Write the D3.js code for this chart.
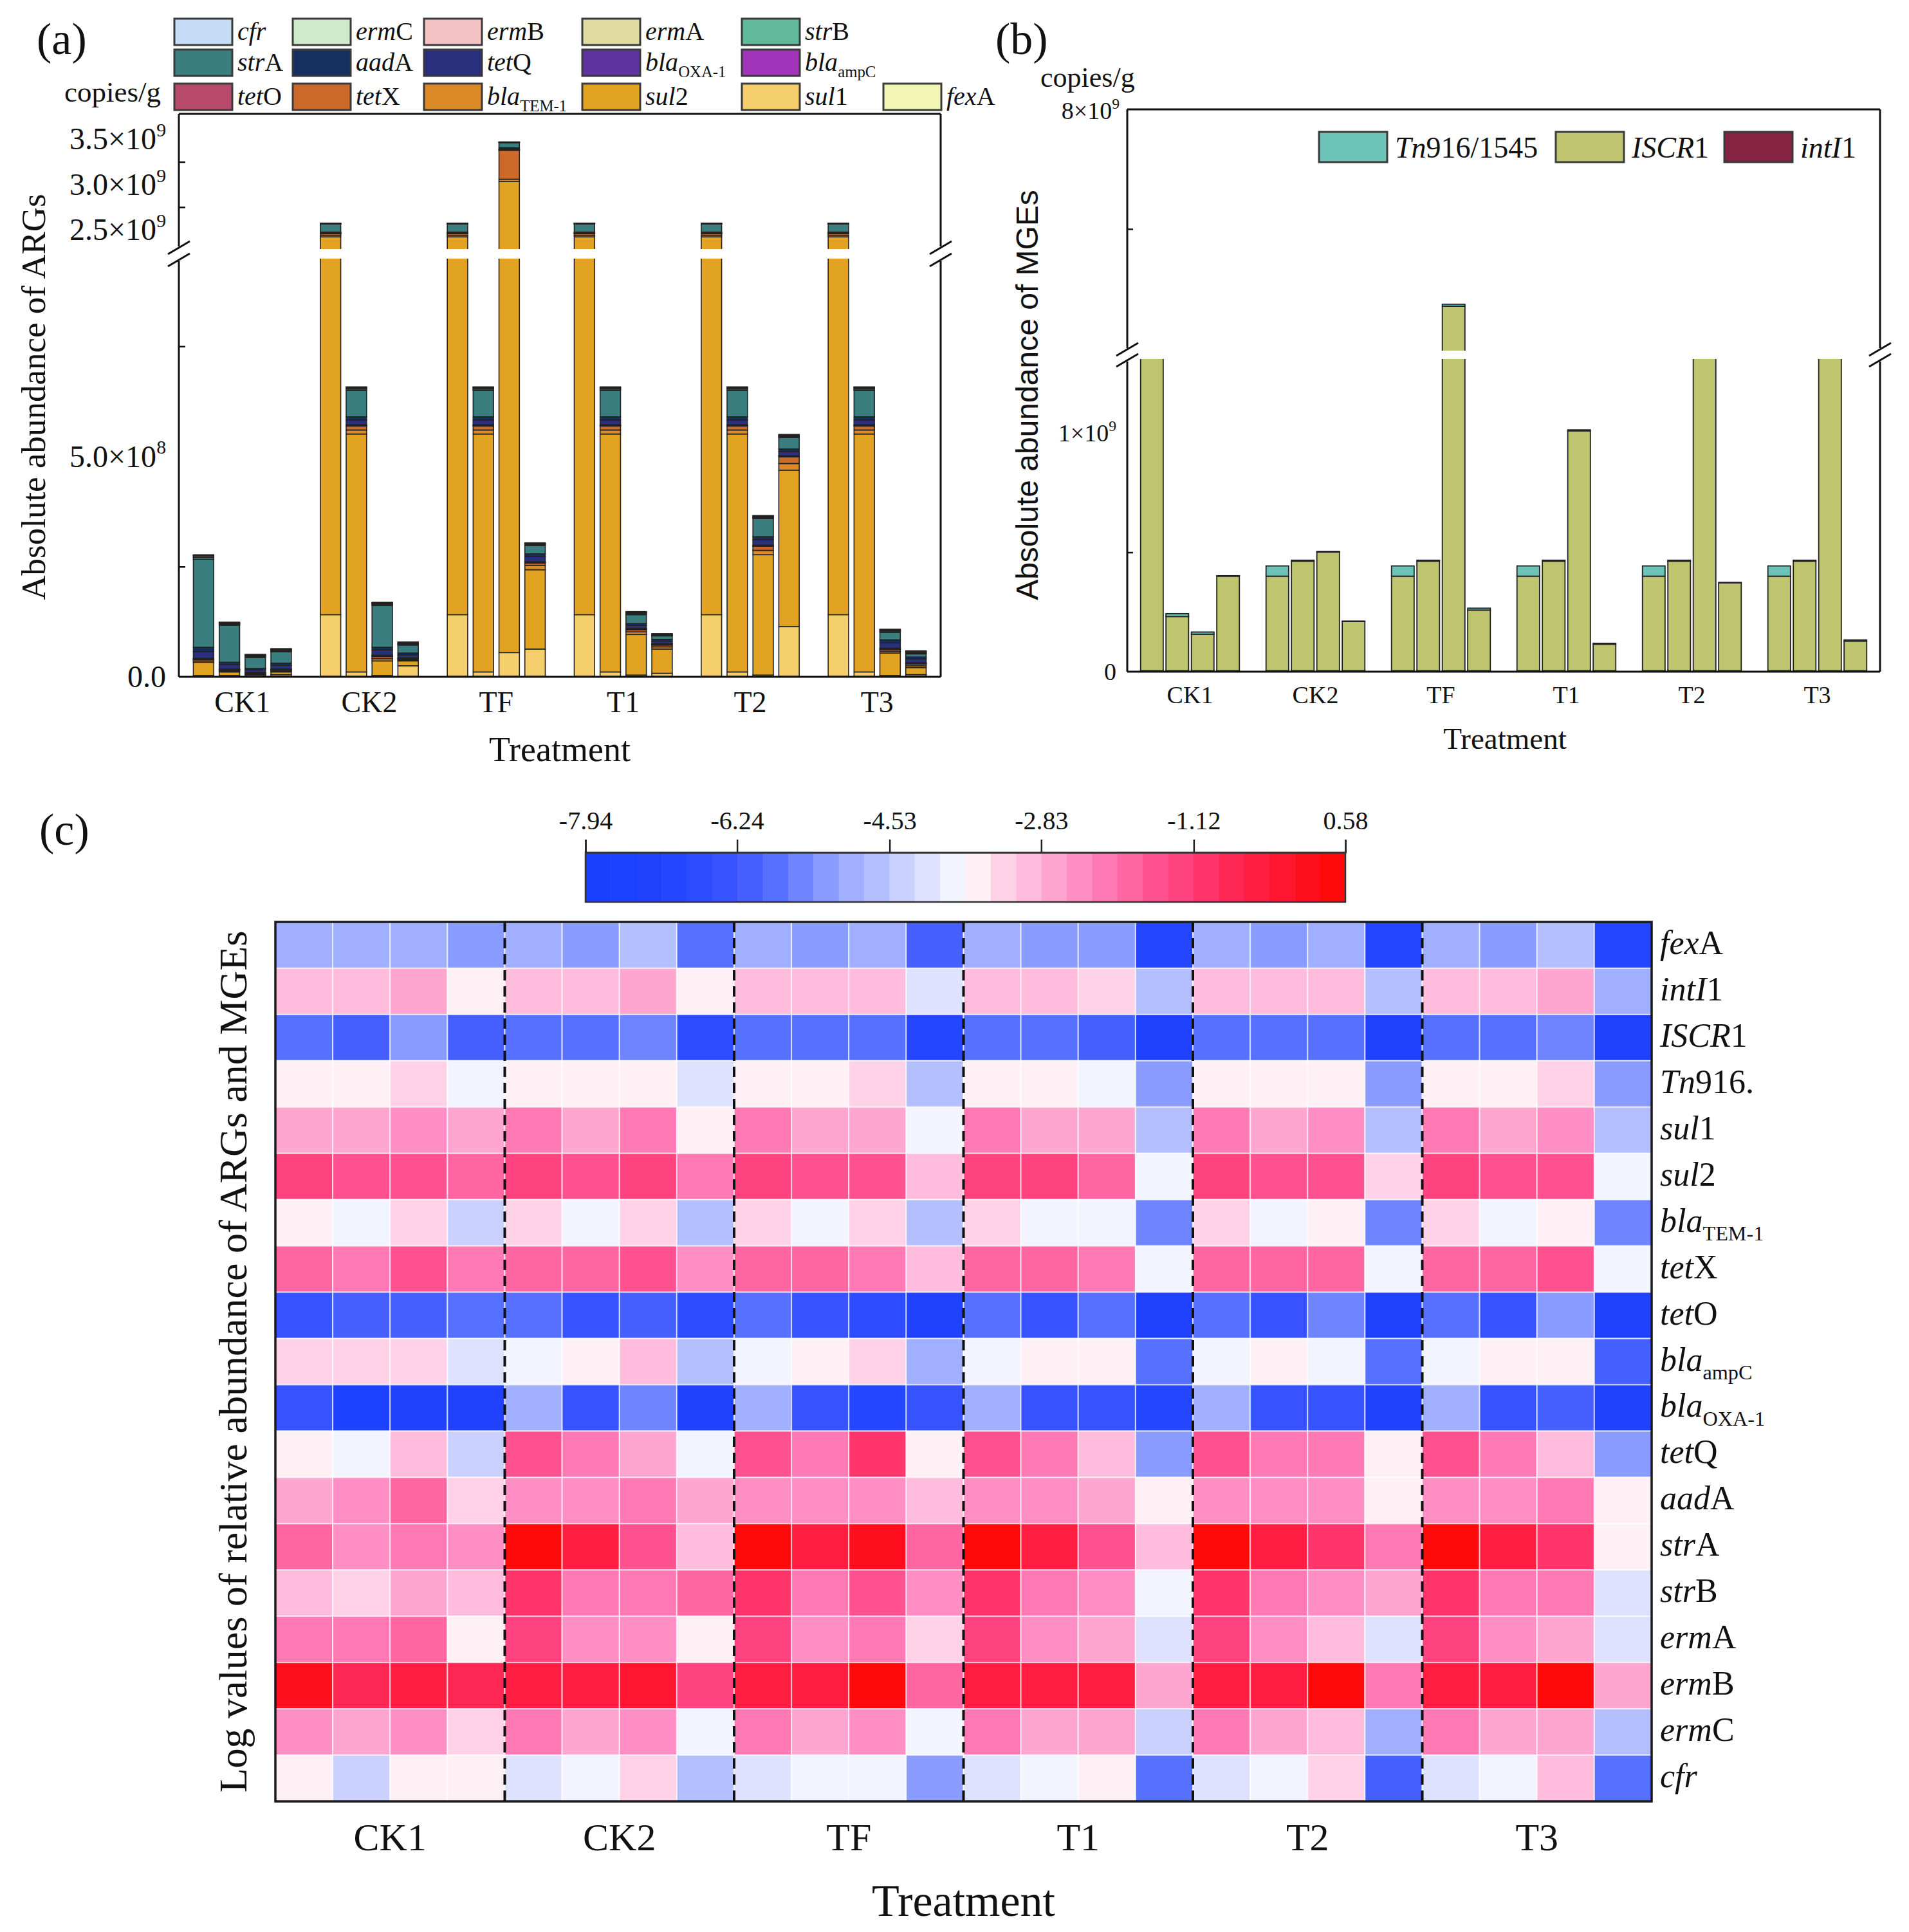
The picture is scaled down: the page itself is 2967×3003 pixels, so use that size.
<!DOCTYPE html>
<html><head><meta charset="utf-8">
<script src="https://cdn.jsdelivr.net/npm/d3@7/dist/d3.min.js"></script>
<style>body{margin:0;background:#fff}</style>
</head><body>
<svg id="c" width="2967" height="3003" xmlns="http://www.w3.org/2000/svg"></svg>
<script>
// ---------------- DATA ----------------
const treatments = ["CK1","CK2","TF","T1","T2","T3"];

// Panel (a): absolute abundance of ARGs (x 1e6 copies/g), 4 bars per treatment
const argLegendOrder = ["cfr","ermC","ermB","ermA","strB","strA","aadA","tetQ","blaOXA-1","blaampC","tetO","tetX","blaTEM-1","sul2","sul1","fexA"];
const argLegendLabels = ["*cfr*","*erm*C","*erm*B","*erm*A","*str*B","*str*A","*aad*A","*tet*Q","*bla*_{OXA-1}","*bla*_{ampC}","*tet*O","*tet*X","*bla*_{TEM-1}","*sul*2","*sul*1","*fex*A"];
const abs_fexA   = [1,1,1,1, 1,1,1,1, 1,1,1,1, 1,1,1,1, 1,1,1,1, 1,1,1,1];
const abs_sul1   = [2,2,1,4, 140,10,2,24, 140,10,54,62, 140,10,3,7, 140,10,3,113, 140,10,2,4];
const abs_sul2   = [30,8,3,6, 2280,540,33,11, 2280,540,2978,180, 2280,540,92,55, 2280,540,273,355, 2280,540,51,16];
const abs_blaTEM = [3,2,1,2, 18,9,5,2, 18,9,25,10, 18,9,6,5, 18,9,10,15, 18,9,4,4];
const abs_tetX   = [3,2,1,2, 17,9,5,2, 17,9,320,5, 17,9,5,4, 17,9,9,15, 17,9,4,4];
const abs_tetO   = [1,1,1,1, 1,1,1,1, 1,1,3,1, 1,1,1,1, 1,1,1,1, 1,1,1,1];
const abs_blaampC= [1,1,1,1, 1,1,1,1, 1,1,2,1, 1,1,1,1, 1,1,1,1, 1,1,1,1];
const abs_blaOXA = [1,1,1,1, 1,1,1,1, 1,1,2,1, 1,1,1,1, 1,1,1,1, 1,1,1,1];
const abs_tetQ   = [15,10,6,8, 9,11,12,7, 9,11,12,12, 9,11,7,6, 9,11,12,9, 9,11,12,9];
const abs_aadA   = [10,5,3,5, 6,7,6,4, 6,7,8,6, 6,7,4,4, 6,7,7,6, 6,7,7,4];
const abs_strA   = [200,84,25,26, 90,60,95,18, 90,60,57,19, 90,60,20,8, 90,60,41,26, 90,60,17,7];
const abs_strB   = [4,2,2,2, 2,3,2,2, 2,3,3,2, 2,3,2,1, 2,3,2,2, 2,3,2,2];
const abs_ermA   = [1,1,1,1, 1,1,1,1, 1,1,1,1, 1,1,1,1, 1,1,1,1, 1,1,1,1];
const abs_ermB   = [3,2,2,2, 2,2,2,2, 2,2,2,1, 2,2,2,1, 2,2,2,2, 2,2,2,2];
const abs_ermC   = [1,1,1,1, 1,1,1,1, 1,1,1,1, 1,1,1,1, 1,1,1,1, 1,1,1,1];
const abs_cfr    = [1,1,1,1, 1,1,1,1, 1,1,1,1, 1,1,1,1, 1,1,1,1, 1,1,1,1];
const argStackOrder = ["fexA","sul1","sul2","blaTEM-1","tetX","tetO","blaampC","blaOXA-1","tetQ","aadA","strA","strB","ermA","ermB","ermC","cfr"];
const argColors = {"cfr":"#C5DCF7","ermC":"#CDEBCB","ermB":"#F5C2C3","ermA":"#DEDAA0","strB":"#62BA9C","strA":"#3A7E80","aadA":"#15305E","tetQ":"#2B307E","blaOXA-1":"#5E339E","blaampC":"#A234B9","tetO":"#B84B6B","tetX":"#CC6A2B","blaTEM-1":"#DC8A27","sul2":"#E2A322","sul1":"#F5CF6B","fexA":"#F3F7B6"};
const yTicksA_low = [0, 5e8], yTickLabelsA_low = ["0.0","5.0×10^{8}"], yMinorA_low = [2.5e8, 7.5e8];
const yTicksA_up = [2.5e9, 3.0e9, 3.5e9], yTickLabelsA_up = ["2.5×10^{9}","3.0×10^{9}","3.5×10^{9}"], yMinorA_up = [2.75e9, 3.25e9];

// Panel (b): absolute abundance of MGEs (x 1e9 copies/g)
const mgeKeys = ["intI1","ISCR1","Tn916/1545"];
const mge_intI1 = [0.004,0.004,0.004,0.004, 0.004,0.004,0.004,0.004, 0.004,0.004,0.004,0.004, 0.004,0.004,0.004,0.004, 0.004,0.004,0.004,0.004, 0.004,0.004,0.004,0.004];
const mge_ISCR1 = [1.6,0.227,0.153,0.396, 0.396,0.459,0.497,0.206, 0.396,0.459,3.06,0.254, 0.396,0.459,1.005,0.111, 0.396,0.459,1.6,0.368, 0.396,0.459,1.6,0.124];
const mge_Tn916 = [0,0.012,0.009,0.002, 0.043,0.004,0.003,0.002, 0.043,0.004,0.05,0.008, 0.043,0.004,0.004,0.004, 0.043,0.004,0.002,0.002, 0.043,0.004,0.002,0.005];
const mgeLegendKeys = ["Tn916/1545","ISCR1","intI1"];
const mgeLegendLabels = ["*Tn*916/1545","*ISCR*1","*intI*1"];
const mgeColors = {"Tn916/1545":"#6CC3B7","ISCR1":"#BFC46F","intI1":"#862342"};
const yTicksB_low = [0, 1e9], yTickLabelsB_low = ["0","1×10^{9}"], yMinorB_low = [0.5e9];
const yTicksB_up = [8e9], yTickLabelsB_up = ["8×10^{9}"], yMinorB_up = [5e9];

// Panel (c): log relative abundance heatmap (rows top->bottom, 24 columns)
const heatLabels = ["*fex*A","*intI*1","*ISCR*1","*Tn*916.","*sul*1","*sul*2","*bla*_{TEM-1}","*tet*X","*tet*O","*bla*_{ampC}","*bla*_{OXA-1}","*tet*Q","*aad*A","*str*A","*str*B","*erm*A","*erm*B","*erm*C","*cfr*"];
const hm_fexA  = [-4.96,-4.96,-4.96,-5.24, -4.96,-5.24,-4.67,-5.81, -4.96,-5.24,-4.96,-6.09, -4.96,-5.24,-5.24,-6.95, -4.96,-5.24,-4.96,-6.95, -4.96,-5.24,-4.67,-6.95];
const hm_intI1 = [-2.97,-2.97,-2.69,-3.54, -2.97,-2.97,-2.69,-3.54, -2.97,-2.97,-2.97,-4.11, -2.97,-2.97,-3.25,-4.67, -2.97,-2.97,-2.97,-4.67, -2.97,-2.97,-2.69,-4.96];
const hm_ISCR1 = [-5.81,-6.09,-5.24,-6.09, -5.81,-5.81,-5.53,-6.66, -5.81,-5.81,-5.81,-6.95, -5.81,-5.81,-6.09,-7.23, -5.81,-5.81,-5.81,-7.23, -5.81,-5.81,-5.53,-7.23];
const hm_Tn916 = [-3.54,-3.54,-3.25,-3.82, -3.54,-3.54,-3.54,-4.11, -3.54,-3.54,-3.25,-4.67, -3.54,-3.54,-3.82,-5.24, -3.54,-3.54,-3.54,-5.24, -3.54,-3.54,-3.25,-5.24];
const hm_sul1  = [-2.69,-2.69,-2.40,-2.69, -2.12,-2.69,-2.12,-3.54, -2.12,-2.69,-2.69,-3.82, -2.12,-2.69,-2.69,-4.67, -2.12,-2.69,-2.40,-4.67, -2.12,-2.69,-2.40,-4.67];
const hm_sul2  = [-1.27,-1.55,-1.55,-1.83, -1.27,-1.55,-1.27,-2.12, -1.27,-1.55,-1.55,-2.97, -1.27,-1.27,-1.83,-3.82, -1.27,-1.55,-1.55,-3.25, -1.27,-1.55,-1.55,-3.82];
const hm_blaTEM= [-3.54,-3.82,-3.25,-4.39, -3.25,-3.82,-3.25,-4.67, -3.25,-3.82,-3.25,-4.67, -3.25,-3.82,-3.82,-5.53, -3.25,-3.82,-3.54,-5.53, -3.25,-3.82,-3.54,-5.53];
const hm_tetX  = [-1.83,-2.12,-1.55,-2.12, -1.83,-1.83,-1.55,-2.40, -1.83,-1.83,-2.12,-2.97, -1.83,-1.83,-2.12,-3.82, -1.83,-1.83,-1.83,-3.82, -1.83,-1.83,-1.55,-3.82];
const hm_tetO  = [-6.38,-6.09,-6.09,-5.81, -5.81,-6.38,-6.09,-6.66, -5.81,-6.38,-6.66,-7.23, -5.81,-6.38,-5.81,-7.23, -5.81,-6.38,-5.53,-7.23, -5.81,-6.38,-5.24,-7.23];
const hm_blaampC=[-3.25,-3.25,-3.25,-4.11, -3.82,-3.54,-2.97,-4.67, -3.82,-3.54,-3.25,-4.96, -3.82,-3.54,-3.54,-5.81, -3.82,-3.54,-3.82,-5.81, -3.82,-3.54,-3.54,-6.09];
const hm_blaOXA= [-6.38,-7.51,-7.23,-7.23, -4.96,-6.38,-5.53,-7.23, -4.96,-6.38,-6.95,-6.38, -4.96,-6.38,-6.38,-6.95, -4.96,-6.38,-6.38,-7.23, -4.96,-6.38,-6.09,-7.23];
const hm_tetQ  = [-3.54,-3.82,-2.97,-4.39, -1.55,-2.12,-2.69,-3.82, -1.55,-2.12,-0.98,-3.54, -1.55,-2.12,-2.97,-5.24, -1.55,-2.12,-2.12,-3.54, -1.55,-2.12,-2.97,-5.24];
const hm_aadA  = [-2.69,-2.40,-1.83,-3.25, -2.40,-2.40,-2.12,-2.69, -2.40,-2.40,-2.40,-2.97, -2.40,-2.40,-2.69,-3.54, -2.40,-2.40,-2.40,-3.54, -2.40,-2.40,-2.12,-3.54];
const hm_strA  = [-1.83,-2.40,-2.12,-2.40, 0.44,-0.42,-1.55,-2.97, 0.44,-0.42,0.15,-1.83, 0.44,-0.42,-1.55,-2.97, 0.44,-0.42,-0.98,-2.12, 0.44,-0.42,-0.98,-3.54];
const hm_strB  = [-2.97,-3.25,-2.69,-2.97, -0.98,-2.12,-2.12,-1.83, -0.98,-2.12,-1.55,-2.40, -0.98,-2.12,-2.40,-3.82, -0.98,-2.12,-2.40,-2.69, -0.98,-2.12,-2.12,-4.11];
const hm_ermA  = [-2.12,-2.12,-1.83,-3.54, -1.27,-2.40,-2.40,-3.54, -1.27,-2.40,-2.12,-3.25, -1.27,-2.40,-2.69,-4.11, -1.27,-2.40,-2.97,-4.11, -1.27,-2.40,-2.69,-4.11];
const hm_ermB  = [0.15,-0.70,-0.42,-0.70, -0.42,-0.42,-0.13,-1.27, -0.42,-0.42,0.44,-1.83, -0.42,-0.42,-0.42,-2.69, -0.42,-0.42,0.44,-2.12, -0.42,-0.42,0.44,-2.69];
const hm_ermC  = [-2.40,-2.69,-2.40,-3.25, -2.12,-2.69,-2.40,-3.82, -2.12,-2.69,-2.40,-3.82, -2.12,-2.69,-2.69,-4.39, -2.12,-2.69,-2.97,-4.96, -2.12,-2.69,-2.69,-4.67];
const hm_cfr   = [-3.54,-4.39,-3.54,-3.54, -4.11,-3.82,-3.25,-4.67, -4.11,-3.82,-3.82,-5.24, -4.11,-3.82,-3.54,-5.81, -4.11,-3.82,-3.25,-6.09, -4.11,-3.82,-2.97,-5.81];
const colorbarTicks = [-7.94,-6.24,-4.53,-2.83,-1.12,0.58];
const heatPalette = ["#1A3FFF","#1C41FF","#2042FF","#2546FF","#2D4CFF","#3653FF","#4560FF","#5670FF","#6E85FF","#8A9CFF","#A0AFFF","#B4BFFF","#CAD1FF","#DEE2FF","#F2F5FF","#FFF0F6","#FFD2E8","#FFBCDC","#FFA6D0","#FF8EC4","#FF7AB4","#FF66A2","#FF5090","#FF4280","#FF356C","#FF2855","#FF1E42","#FF1530","#FF0F1E","#FF0A0A"];

// ---------------- HELPERS ----------------
const SERIF = "Liberation Serif, Times New Roman, serif";
const SANS = "Liberation Sans, Arial, sans-serif";
const svg = d3.select("#c");
svg.append("rect").attr("width",2967).attr("height",3003).attr("fill","#fff");

function rich(text, str, fs) {
  const re = /\*([^*]+)\*|_\{([^}]+)\}|\^\{([^}]+)\}|([^*_^]+)/g;
  let m, shift = 0;
  while ((m = re.exec(str))) {
    const t = text.append("tspan");
    let dy;
    if (m[1] !== undefined) { t.text(m[1]).attr("font-style","italic"); dy = -shift; shift = 0; }
    else if (m[2] !== undefined) { t.text(m[2]).attr("font-size", fs*0.62); dy = 0.26*fs - shift; shift = 0.26*fs; }
    else if (m[3] !== undefined) { t.text(m[3]).attr("font-size", fs*0.62); dy = -0.42*fs - shift; shift = -0.42*fs; }
    else { t.text(m[4]); dy = -shift; shift = 0; }
    if (dy) t.attr("dy", dy);
  }
  return text;
}
function label(g, x, y, str, fs, anchor, family) {
  const t = g.append("text").attr("x", x).attr("y", y).attr("font-size", fs)
    .attr("font-family", family || SERIF).attr("text-anchor", anchor || "start").attr("fill","#111");
  return rich(t, str, fs);
}
function breakMarks(g, x, yTop, yBot) {
  [yTop, yBot].forEach(y => g.append("line").attr("x1", x-17).attr("y1", y+10).attr("x2", x+17).attr("y2", y-10)
    .attr("stroke","#111").attr("stroke-width",3));
}

// ---------------- PANEL (a) ----------------
{
  const A = {left:278, right:1462, top:177, bottom:1052, upBot:387, lowTop:402};
  const g = svg.append("g");
  const argData = {"fexA":abs_fexA,"sul1":abs_sul1,"sul2":abs_sul2,"blaTEM-1":abs_blaTEM,"tetX":abs_tetX,"tetO":abs_tetO,"blaampC":abs_blaampC,"blaOXA-1":abs_blaOXA,"tetQ":abs_tetQ,"aadA":abs_aadA,"strA":abs_strA,"strB":abs_strB,"ermA":abs_ermA,"ermB":abs_ermB,"ermC":abs_ermC,"cfr":abs_cfr};
  const rows = d3.range(24).map(i => { const o = {t: treatments[Math.floor(i/4)], r: i%4}; argStackOrder.forEach(k => o[k] = argData[k][i]*1e6); return o; });
  const series = d3.stack().keys(argStackOrder)(rows);
  const x = d3.scaleBand().domain(treatments).range([A.left, A.right]);
  const xi = d3.scaleBand().domain(d3.range(4)).range([0, x.bandwidth()]).paddingInner(0.21).paddingOuter(0.56);
  const yLow = d3.scaleLinear().domain([0, 9.49e8]).range([A.bottom, A.lowTop]);
  const yUp = d3.scaleLinear().domain([2.287e9, 3.78e9]).range([A.upBot, A.top]);
  const defs = svg.append("defs");
  defs.append("clipPath").attr("id","clipALow").append("rect").attr("x",A.left).attr("y",A.lowTop).attr("width",A.right-A.left).attr("height",A.bottom-A.lowTop+4);
  defs.append("clipPath").attr("id","clipAUp").append("rect").attr("x",A.left).attr("y",A.top).attr("width",A.right-A.left).attr("height",A.upBot-A.top);
  [[yLow,"clipALow"],[yUp,"clipAUp"]].forEach(([y, clip]) => {
    const gg = g.append("g").attr("clip-path", `url(#${clip})`);
    gg.selectAll("g").data(series).join("g").attr("fill", d => argColors[d.key])
      .selectAll("rect").data(d => d).join("rect")
      .attr("x", d => x(d.data.t) + xi(d.data.r)).attr("width", xi.bandwidth())
      .attr("y", d => y(d[1])).attr("height", d => Math.max(0, y(d[0]) - y(d[1])))
      .attr("stroke","#222").attr("stroke-width",1.6);
  });
  const fr = g.append("g").attr("stroke","#111").attr("stroke-width",3).attr("fill","none");
  fr.append("line").attr("x1",A.left).attr("x2",A.right).attr("y1",A.top).attr("y2",A.top);
  fr.append("line").attr("x1",A.left).attr("x2",A.right).attr("y1",A.bottom).attr("y2",A.bottom);
  [A.left, A.right].forEach(xx => {
    fr.append("line").attr("x1",xx).attr("x2",xx).attr("y1",A.top).attr("y2",A.upBot-4);
    fr.append("line").attr("x1",xx).attr("x2",xx).attr("y1",A.lowTop+4).attr("y2",A.bottom);
    breakMarks(g, xx, A.upBot-2, A.lowTop+2);
  });
  const tk = (scale, vals, size) => g.append("g").attr("transform",`translate(${A.left},0)`)
    .call(d3.axisLeft(scale).tickValues(vals).tickSize(-size).tickFormat(""))
    .call(s => { s.select(".domain").remove(); s.selectAll("line").attr("stroke","#111").attr("stroke-width",2.5); });
  tk(yLow, yMinorA_low, 10); tk(yUp, yMinorA_up, 10);
  yTicksA_low.forEach((v,i) => label(g, 258, yLow(v)+16, yTickLabelsA_low[i], 48, "end"));
  yTicksA_up.forEach((v,i) => label(g, 258, yUp(v)+16, yTickLabelsA_up[i], 48, "end"));
  treatments.forEach(t => label(g, x(t)+x.bandwidth()/2, 1107, t, 46, "middle"));
  label(g, 870, 1183, "Treatment", 54, "middle");
  g.append("text").attr("transform","translate(70,617) rotate(-90)").attr("text-anchor","middle")
    .attr("font-family",SERIF).attr("font-size",53).attr("fill","#111").text("Absolute abundance of ARGs");
  label(g, 100, 158, "copies/g", 45);
  label(g, 57, 84, "(a)", 70);
  const colX = [271, 455, 659, 905, 1153, 1373], rowY = [29, 77, 130];
  const cells = [[0,0],[0,1],[0,2],[0,3],[0,4],[1,0],[1,1],[1,2],[1,3],[1,4],[2,0],[2,1],[2,2],[2,3],[2,4],[2,5]];
  argLegendOrder.forEach((k,i) => {
    const [r,c] = cells[i];
    g.append("rect").attr("x",colX[c]).attr("y",rowY[r]).attr("width",90).attr("height",41)
      .attr("fill",argColors[k]).attr("stroke","#3a3a3a").attr("stroke-width",3);
    label(g, colX[c]+98, rowY[r]+33, argLegendLabels[i], 40);
  });
}

// ---------------- PANEL (b) ----------------
{
  const B = {left:1752, right:2922, top:170, bottom:1044, upBot:545, lowTop:558};
  const g = svg.append("g");
  const mgeData = {"intI1":mge_intI1,"ISCR1":mge_ISCR1,"Tn916/1545":mge_Tn916};
  const rows = d3.range(24).map(i => { const o = {t: treatments[Math.floor(i/4)], r: i%4}; mgeKeys.forEach(k => o[k] = mgeData[k][i]*1e9); return o; });
  const series = d3.stack().keys(mgeKeys)(rows);
  const x = d3.scaleBand().domain(treatments).range([B.left, B.right]);
  const xi = d3.scaleBand().domain(d3.range(4)).range([0, x.bandwidth()]).paddingInner(0.11).paddingOuter(0.525);
  const yLow = d3.scaleLinear().domain([0, 1.31e9]).range([B.bottom, B.lowTop]);
  const yUp = d3.scaleLinear().domain([1.95e9, 8e9]).range([B.upBot, B.top]);
  const defs = svg.append("defs");
  defs.append("clipPath").attr("id","clipBLow").append("rect").attr("x",B.left).attr("y",B.lowTop).attr("width",B.right-B.left).attr("height",B.bottom-B.lowTop+4);
  defs.append("clipPath").attr("id","clipBUp").append("rect").attr("x",B.left).attr("y",B.top).attr("width",B.right-B.left).attr("height",B.upBot-B.top);
  [[yLow,"clipBLow"],[yUp,"clipBUp"]].forEach(([y, clip]) => {
    const gg = g.append("g").attr("clip-path", `url(#${clip})`);
    gg.selectAll("g").data(series).join("g").attr("fill", d => mgeColors[d.key])
      .selectAll("rect").data(d => d).join("rect")
      .attr("x", d => x(d.data.t) + xi(d.data.r)).attr("width", xi.bandwidth())
      .attr("y", d => y(d[1])).attr("height", d => Math.max(0, y(d[0]) - y(d[1])))
      .attr("stroke","#222").attr("stroke-width",1.8);
  });
  const fr = g.append("g").attr("stroke","#111").attr("stroke-width",3).attr("fill","none");
  fr.append("line").attr("x1",B.left).attr("x2",B.right).attr("y1",B.top).attr("y2",B.top);
  fr.append("line").attr("x1",B.left).attr("x2",B.right).attr("y1",B.bottom).attr("y2",B.bottom);
  [B.left, B.right].forEach(xx => {
    fr.append("line").attr("x1",xx).attr("x2",xx).attr("y1",B.top).attr("y2",B.upBot-4);
    fr.append("line").attr("x1",xx).attr("x2",xx).attr("y1",B.lowTop+4).attr("y2",B.bottom);
    breakMarks(g, xx, B.upBot-2, B.lowTop+2);
  });
  const tk = (scale, vals, size) => g.append("g").attr("transform",`translate(${B.left},0)`)
    .call(d3.axisLeft(scale).tickValues(vals).tickSize(-size).tickFormat(""))
    .call(s => { s.select(".domain").remove(); s.selectAll("line").attr("stroke","#111").attr("stroke-width",2.5); });
  tk(yLow, yMinorB_low, 9); tk(yUp, yMinorB_up, 9);
  yTicksB_low.forEach((v,i) => label(g, 1735, yLow(v)+13, yTickLabelsB_low[i], 38, "end"));
  yTicksB_up.forEach((v,i) => label(g, 1740, yUp(v)+15, yTickLabelsB_up[i], 38, "end"));
  treatments.forEach(t => label(g, x(t)+x.bandwidth()/2, 1093, t, 38, "middle"));
  label(g, 2339, 1164, "Treatment", 47, "middle");
  g.append("text").attr("transform","translate(1613,614) rotate(-90)").attr("text-anchor","middle")
    .attr("font-family",SANS).attr("font-size",48).attr("fill","#111").text("Absolute abundance of MGEs");
  label(g, 1617, 135, "copies/g", 44);
  label(g, 1547, 84, "(b)", 70);
  const legX = [2050, 2418, 2680];
  mgeLegendKeys.forEach((k,i) => {
    g.append("rect").attr("x",legX[i]).attr("y",205).attr("width",106).attr("height",47)
      .attr("fill",mgeColors[k]).attr("stroke","#3a3a3a").attr("stroke-width",3);
    label(g, legX[i]+118, 245, mgeLegendLabels[i], 46);
  });
}

// ---------------- PANEL (c) ----------------
{
  const H = {left:428, right:2567, top:1433, bottom:2800};
  const g = svg.append("g");
  const matrix = [hm_fexA,hm_intI1,hm_ISCR1,hm_Tn916,hm_sul1,hm_sul2,hm_blaTEM,hm_tetX,hm_tetO,hm_blaampC,hm_blaOXA,hm_tetQ,hm_aadA,hm_strA,hm_strB,hm_ermA,hm_ermB,hm_ermC,hm_cfr];
  const x = d3.scaleBand().domain(d3.range(24)).range([H.left, H.right]);
  const y = d3.scaleBand().domain(d3.range(heatLabels.length)).range([H.top, H.bottom]);
  const color = d3.scaleQuantize().domain([colorbarTicks[0], colorbarTicks[colorbarTicks.length-1]]).range(heatPalette);
  const cellsData = [];
  matrix.forEach((row, r) => row.forEach((v, c) => cellsData.push({r, c, v})));
  g.selectAll("rect.cell").data(cellsData).join("rect").attr("class","cell")
    .attr("x", d => x(d.c)).attr("y", d => y(d.r)).attr("width", x.bandwidth()).attr("height", y.bandwidth())
    .attr("fill", d => color(d.v)).attr("stroke","#ffffff").attr("stroke-width",2).attr("stroke-opacity",0.65);
  for (let k = 1; k < 6; k++) {
    g.append("line").attr("x1", x(k*4)).attr("x2", x(k*4)).attr("y1", H.top).attr("y2", H.bottom)
      .attr("stroke","#111").attr("stroke-width",4).attr("stroke-dasharray","16,9");
  }
  g.append("rect").attr("x",H.left).attr("y",H.top).attr("width",H.right-H.left).attr("height",H.bottom-H.top)
    .attr("fill","none").attr("stroke","#1a1a1a").attr("stroke-width",3.5);
  heatLabels.forEach((s, r) => label(g, 2580, y(r)+y.bandwidth()/2+14, s, 52));
  treatments.forEach((t, i) => label(g, (x(i*4)+x(i*4+3)+x.bandwidth())/2, 2876, t, 60, "middle"));
  label(g, (H.left+H.right)/2, 2978, "Treatment", 70, "middle");
  g.append("text").attr("transform",`translate(383,${(H.top+H.bottom)/2}) rotate(-90)`).attr("text-anchor","middle")
    .attr("font-family",SERIF).attr("font-size",62).attr("fill","#111").text("Log values of relative abundance of ARGs and MGEs");
  label(g, 61, 1313, "(c)", 70);
  const CB = {left:910, right:2091, top:1325, bottom:1402};
  const xc = d3.scaleLinear().domain([colorbarTicks[0], colorbarTicks[colorbarTicks.length-1]]).range([CB.left, CB.right]);
  g.selectAll("rect.cb").data(heatPalette).join("rect").attr("class","cb")
    .attr("x", d => xc(color.invertExtent(d)[0])).attr("width", d => xc(color.invertExtent(d)[1]) - xc(color.invertExtent(d)[0]) + 0.5)
    .attr("y", CB.top).attr("height", CB.bottom-CB.top).attr("fill", d => d);
  g.append("rect").attr("x",CB.left).attr("y",CB.top).attr("width",CB.right-CB.left).attr("height",CB.bottom-CB.top)
    .attr("fill","none").attr("stroke","#333").attr("stroke-width",2.5);
  g.append("g").attr("transform",`translate(0,${CB.top})`)
    .call(d3.axisTop(xc).tickValues(colorbarTicks).tickSize(20).tickPadding(16).tickFormat(d => d.toFixed(2)))
    .call(s => {
      s.select(".domain").attr("stroke","#333").attr("stroke-width",2.5);
      s.selectAll("line").attr("stroke","#222").attr("stroke-width",2.5);
      s.selectAll("text").attr("font-family",SERIF).attr("font-size",40).attr("fill","#111");
    });
}
</script>
</body></html>
